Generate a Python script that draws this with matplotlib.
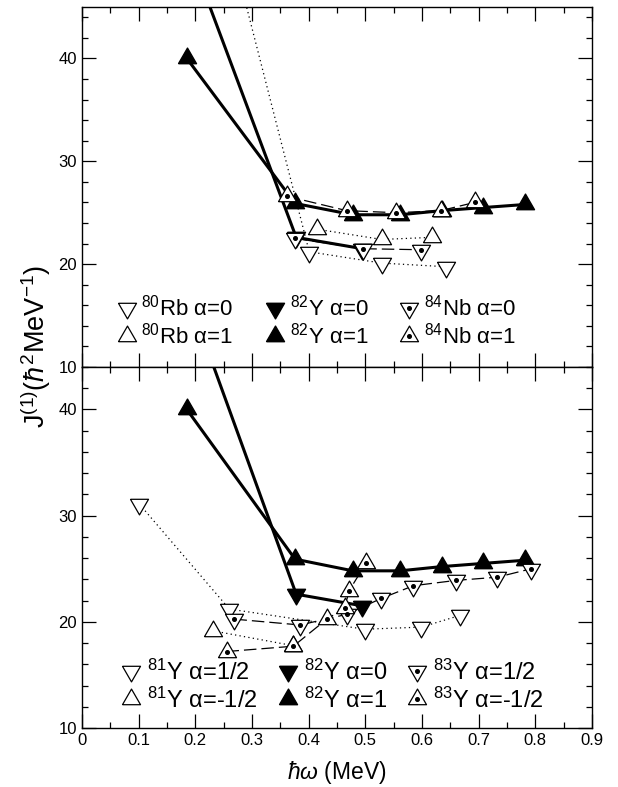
import matplotlib
matplotlib.use("Agg")
import matplotlib.pyplot as plt
from matplotlib.lines import Line2D
from matplotlib.legend_handler import HandlerTuple
from matplotlib.ticker import MultipleLocator

plt.rcParams['font.family'] = ['Liberation Sans', 'DejaVu Sans']
plt.rcParams['mathtext.fontset'] = 'custom'
plt.rcParams['mathtext.rm'] = 'Liberation Sans'
plt.rcParams['mathtext.it'] = 'Liberation Sans:italic'
plt.rcParams['mathtext.bf'] = 'Liberation Sans:bold'

# ---- upper panel: 80Rb, 82Y, 84Nb ----
rb80_a0_x = [0.270, 0.401, 0.529, 0.642]
rb80_a0_y = [49.4, 21.2, 20.1, 19.75]
rb80_a1_x = [0.414, 0.529, 0.617]
rb80_a1_y = [23.4, 22.4, 22.6]
nb84_a0_x = [0.376, 0.496, 0.598]
nb84_a0_y = [22.5, 21.5, 21.4]
nb84_a1_x = [0.362, 0.467, 0.555, 0.633, 0.693]
nb84_a1_y = [26.6, 25.2, 25.0, 25.2, 26.0]

# ---- 82Y (shown in both panels) ----
y82_a0_x = [0.185, 0.378, 0.495]
y82_a0_y = [51.0, 22.6, 21.5]
y82_a1_x = [0.185, 0.376, 0.478, 0.561, 0.635, 0.708, 0.782]
y82_a1_y = [40.0, 25.9, 24.8, 24.8, 25.2, 25.5, 25.8]

# ---- lower panel: 81Y, 83Y ----
y81_p_x = [0.101, 0.260, 0.499, 0.599, 0.667]
y81_p_y = [31.1, 21.2, 19.3, 19.5, 20.6]
y81_m_x = [0.231, 0.373]
y81_m_y = [19.15, 17.75]
y83_p_x = [0.269, 0.385, 0.467, 0.528, 0.585, 0.660, 0.733, 0.793]
y83_p_y = [20.25, 19.7, 20.7, 22.2, 23.4, 23.9, 24.2, 25.0]
y83_m_x = [0.255, 0.373, 0.432, 0.464, 0.471, 0.501]
y83_m_y = [17.2, 17.7, 20.25, 21.3, 22.9, 25.5]

upper_labels = [r'$^{80}$Rb α=0', r'$^{80}$Rb α=1', r'$^{82}$Y α=0',
                r'$^{82}$Y α=1', r'$^{84}$Nb α=0', r'$^{84}$Nb α=1']
lower_labels = [r'$^{81}$Y α=1/2', r'$^{81}$Y α=-1/2', r'$^{82}$Y α=0',
                r'$^{82}$Y α=1', r'$^{83}$Y α=1/2', r'$^{83}$Y α=-1/2']

# equilateral triangles centred on their centroid
UP = [(-1, -0.5774), (1, -0.5774), (0, 1.1547), (-1, -0.5774)]
DOWN = [(x, -y) for x, y in UP]

MS = 15
DOT = 2.6
dotted = (0, (1, 2.6))
dashed = (0, (10, 4))


def open_series(ax, x, y, verts, ls, dot, z):
    ax.plot(x, y, ls=ls, lw=0.9, color='black', marker=verts, ms=MS,
            mfc='white', mec='black', mew=0.9, zorder=z, clip_on=True)
    if dot:
        ax.plot(x, y, ls='none', marker='o', ms=DOT, color='black',
                zorder=z + 0.1)


def filled_series(ax, x, y, verts, z):
    ax.plot(x, y, ls='-', lw=2.2, color='black', marker=verts, ms=MS,
            mfc='black', mec='black', zorder=z)


def handles():
    hs = []
    hs.append(Line2D([], [], ls='none', marker=DOWN, ms=MS, mfc='white', mec='black', mew=0.9))
    hs.append(Line2D([], [], ls='none', marker=UP, ms=MS, mfc='white', mec='black', mew=0.9))
    hs.append(Line2D([], [], ls='none', marker=DOWN, ms=MS, mfc='black', mec='black'))
    hs.append(Line2D([], [], ls='none', marker=UP, ms=MS, mfc='black', mec='black'))
    hs.append((Line2D([], [], ls='none', marker=DOWN, ms=MS, mfc='white', mec='black', mew=0.9),
               Line2D([], [], ls='none', marker='o', ms=DOT, color='black')))
    hs.append((Line2D([], [], ls='none', marker=UP, ms=MS, mfc='white', mec='black', mew=0.9),
               Line2D([], [], ls='none', marker='o', ms=DOT, color='black')))
    return hs


def style(ax, ylim):
    ax.set_xlim(0, 0.9)
    ax.set_ylim(*ylim)
    ax.xaxis.set_major_locator(MultipleLocator(0.1))
    ax.xaxis.set_minor_locator(MultipleLocator(0.05))
    ax.yaxis.set_major_locator(MultipleLocator(10))
    ax.yaxis.set_minor_locator(MultipleLocator(2))
    ax.tick_params(which='both', direction='in', top=True, right=True,
                   labelsize=12, width=0.9)
    ax.tick_params(which='major', length=10)
    ax.tick_params(which='minor', length=4.5)
    for s in ax.spines.values():
        s.set_linewidth(1.0)


fig = plt.figure(figsize=(6.18, 7.87), dpi=100)
ax1 = fig.add_axes([0.1327, 0.5337, 0.8252, 0.4574])
ax2 = fig.add_axes([0.1327, 0.0750, 0.8252, 0.4587])

# upper panel
open_series(ax1, rb80_a0_x, rb80_a0_y, DOWN, dotted, False, 2)
open_series(ax1, rb80_a1_x, rb80_a1_y, UP, dotted, False, 2)
filled_series(ax1, y82_a0_x, y82_a0_y, DOWN, 3)
filled_series(ax1, y82_a1_x, y82_a1_y, UP, 3)
open_series(ax1, nb84_a0_x, nb84_a0_y, DOWN, dashed, True, 4)
open_series(ax1, nb84_a1_x, nb84_a1_y, UP, dashed, True, 4)
style(ax1, (10, 45))
ax1.tick_params(labelbottom=False)

# lower panel
open_series(ax2, y81_p_x, y81_p_y, DOWN, dotted, False, 2)
open_series(ax2, y81_m_x, y81_m_y, UP, dotted, False, 2)
filled_series(ax2, y82_a0_x, y82_a0_y, DOWN, 3)
filled_series(ax2, y82_a1_x, y82_a1_y, UP, 3)
open_series(ax2, y83_p_x, y83_p_y, DOWN, dashed, True, 4)
open_series(ax2, y83_m_x, y83_m_y, UP, dashed, True, 4)
style(ax2, (10, 44))
ax2.set_xticks([0, 0.1, 0.2, 0.3, 0.4, 0.5, 0.6, 0.7, 0.8, 0.9])
ax2.set_xticklabels(['0', '0.1', '0.2', '0.3', '0.4', '0.5', '0.6', '0.7', '0.8', '0.9'])

leg_kw = dict(ncol=3, frameon=False, handlelength=0.8,
              handletextpad=0.27, labelspacing=0.12,
              borderpad=0, borderaxespad=0,
              handler_map={tuple: HandlerTuple(ndivide=1)})
ax1.legend(handles(), upper_labels, loc='lower left', fontsize=16,
           columnspacing=1.45, bbox_to_anchor=(0.07, 0.05), **leg_kw)
ax2.legend(handles(), lower_labels, loc='lower left', fontsize=17,
           columnspacing=0.9, bbox_to_anchor=(0.077, 0.043), **leg_kw)

fig.text(0.058, 0.56, r'J$^{(1)}$($\hbar^2$MeV$^{-1}$)', rotation=90,
         ha='center', va='center', fontsize=19.5)
ax2.set_xlabel(r'$\hbar\omega$ (MeV)', fontsize=16.5, labelpad=8)

fig.savefig('out.png', dpi=100)
